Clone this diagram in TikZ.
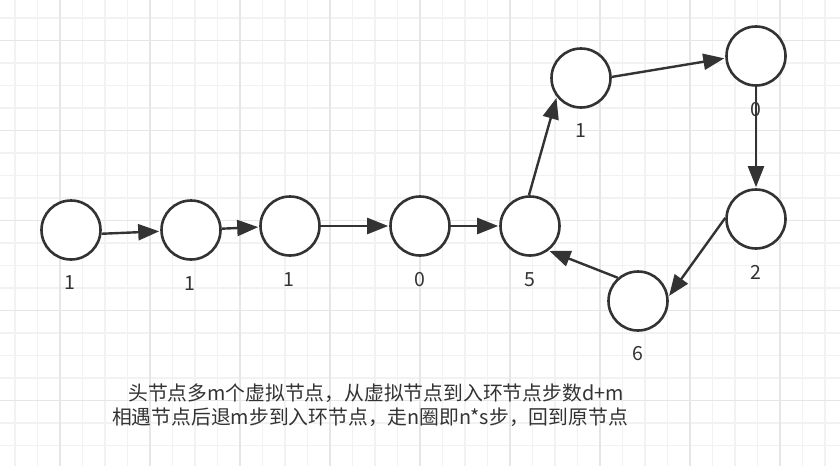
\documentclass[tikz,border=0pt]{standalone}
\usepackage{fontspec}
\newfontfamily\cjk{Noto Sans CJK SC}
\usetikzlibrary{arrows.meta}
\definecolor{ink}{HTML}{333333}
\definecolor{gridminor}{HTML}{F2F2F2}
\definecolor{gridmajor}{HTML}{E6E6E6}
\tikzset{
  vnode/.style={circle, draw=ink, line width=2.6pt, fill=white, minimum size=59pt, inner sep=0pt},
  val/.style={font=\cjk\fontsize{19.5}{22}\selectfont, text=ink, inner sep=0pt},
  note/.style={font=\cjk\fontsize{19.8}{24}\selectfont, text=ink, inner sep=0pt},
  link/.style={draw=ink, line width=2.4pt, -{Triangle[length=21pt,width=16pt]}, shorten >=1pt}
}
\begin{document}
\begin{tikzpicture}[x=1pt,y=-1pt]
\useasboundingbox (0,0) rectangle (840,466);
\fill[white] (0,0) rectangle (840,466);
% grid
\foreach \i in {0,...,36} {
  \draw[gridminor, line width=1.5pt] ({15+22.5*\i},0) -- ({15+22.5*\i},466);
}
\foreach \i in {0,...,20} {
  \draw[gridminor, line width=1.5pt] (0,{17.8+22.5*\i}) -- (840,{17.8+22.5*\i});
}
\foreach \i in {0,...,8} {
  \draw[gridmajor, line width=1.5pt] ({60+90*\i},0) -- ({60+90*\i},466);
}
\foreach \i in {0,...,4} {
  \draw[gridmajor, line width=1.5pt] (0,{40.3+90*\i}) -- (840,{40.3+90*\i});
}
% nodes
\node[vnode] (a) at (71,230) {};
\node[vnode] (b) at (191,230) {};
\node[vnode] (c) at (290,226) {};
\node[vnode] (d) at (420,226) {};
\node[vnode] (e) at (530,226) {};
\node[vnode] (f) at (581,78) {};
\node[vnode] (g) at (756,56) {};
\node[vnode] (h) at (756,219) {};
\node[vnode] (k) at (638,301) {};
% connectors
\draw[link] (a.-7) -- (b);
\draw[link] (b) -- (c.182);
\draw[link] (c) -- (d);
\draw[link] (d) -- (e);
\draw[link] (e.92) -- (f.218);
\draw[link] (f.2) -- (g.184);
\draw[link] (g) -- (h);
\draw[link] (h.178) -- (k.8);
\draw[link] (k.131) -- (e.-53);
% value labels
\node[val] (la) at (70,283) {1};
\node[val] (lb) at (190,284) {1};
\node[val] (lc) at (289,280) {1};
\node[val] (ld) at (420,280) {0};
\node[val] (le) at (530,280) {5};
\node[val] (lf) at (581,131) {1};
\node[val] (lg) at (756,110) {0};
\node[val] (lh) at (756,272) {2};
\node[val] (lk) at (638,354) {6};
% notes
\node[note] (n1) at (376,393) {头节点多m个虚拟节点，从虚拟节点到入环节点步数d+m};
\node[note] (n2) at (370,417) {相遇节点后退m步到入环节点，走n圈即n*s步，回到原节点};
\end{tikzpicture}
\end{document}
